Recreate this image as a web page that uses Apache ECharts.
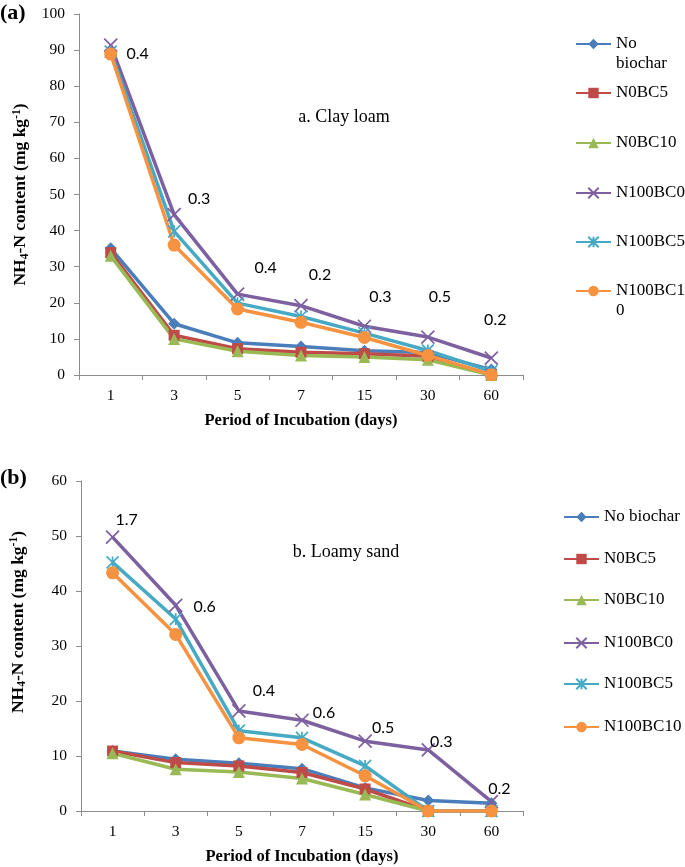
<!DOCTYPE html>
<html>
<head>
<meta charset="utf-8">
<script src="https://cdn.jsdelivr.net/npm/echarts@6/dist/echarts.min.js"></script>
<style>
html,body{margin:0;padding:0;background:#fff;}
#chart{width:685px;height:867px;}
</style>
</head>
<body>
<div id="chart"></div>
<script>
// ---------- DATA ----------
const days = ['1', '3', '5', '7', '15', '30', '60'];
const seriesNames = ['No biochar', 'N0BC5', 'N0BC10', 'N100BC0', 'N100BC5', 'N100BC10'];

// (a) Clay loam
const clayNoBiochar = [35.1, 14.2, 8.9, 7.9, 6.7, 6.2, 1.5];
const clayN0BC5     = [33.9, 11.0, 7.3, 6.3, 5.9, 5.2, 0];
const clayN0BC10    = [33.0, 10.0, 6.6, 5.4, 5.0, 4.2, 0];
const clayN100BC0   = [91.4, 44.4, 22.4, 19.2, 13.5, 10.5, 4.7];
const clayN100BC5   = [89.6, 39.8, 19.9, 16.2, 11.6, 6.8, 1.0];
const clayN100BC10  = [88.9, 36.0, 18.3, 14.6, 10.4, 5.4, 0.1];
const lsdClay = ['0.4', '0.3', '0.4', '0.2', '0.3', '0.5', '0.2'];

// (b) Loamy sand
const sandNoBiochar = [10.9, 9.4, 8.7, 7.7, 4.2, 1.9, 1.4];
const sandN0BC5     = [10.9, 8.8, 8.2, 7.0, 4.0, 0, 0];
const sandN0BC10    = [10.5, 7.6, 7.1, 5.9, 3.0, 0, 0];
const sandN100BC0   = [49.8, 37.4, 18.2, 16.5, 12.7, 11.1, 1.7];
const sandN100BC5   = [45.2, 34.9, 14.6, 13.3, 8.2, 0, 0];
const sandN100BC10  = [43.3, 32.1, 13.3, 12.1, 6.4, 0, 0];
const lsdSand = ['1.7', '0.6', '0.4', '0.6', '0.5', '0.3', '0.2'];

const yTicksClay = {min: 0, max: 100, interval: 10};
const yTicksSand = {min: 0, max: 60, interval: 10};

// ---------- STYLE ----------
const SERIF = '"Liberation Serif", "Times New Roman", serif';
const colors = ['#4A7EBB', '#BE4B48', '#98B954', '#7D60A0', '#46AAC5', '#F69240'];
const symbols = [
  'diamond', 'rect', 'triangle',
  'path://M0,0L10,10M10,0L0,10',
  'path://M5,0L5,10M0,0L10,10M10,0L0,10',
  'circle'
];
const symbolSizes = [12, 11, 12, 13, 12, 13];
const lsdOffsetsClay = [[27, 9], [25, -16], [28, -26], [19, -31], [16, -29], [12, -40], [4, -38]];
const lsdOffsetsSand = [[14, -17], [29, 2], [25, -20], [22, -7], [18, -13], [13, -8], [8, -13]];

const clayData = [clayNoBiochar, clayN0BC5, clayN0BC10, clayN100BC0, clayN100BC5, clayN100BC10];
const sandData = [sandNoBiochar, sandN0BC5, sandN0BC10, sandN100BC0, sandN100BC5, sandN100BC10];

function buildSeries(dataSets, gridIdx, lsd, offsets) {
  return dataSets.map((vals, i) => {
    const isPathSym = i === 3 || i === 4;
    const data = vals.map((v, j) => {
      if (i === 3) {
        return {
          value: v,
          label: {
            show: true, position: 'inside', formatter: lsd[j], offset: offsets[j],
            fontFamily: 'Lato, "Open Sans", sans-serif', fontSize: 16, color: '#000'
          }
        };
      }
      return v;
    });
    return {
      type: 'line',
      name: seriesNames[i],
      xAxisIndex: gridIdx, yAxisIndex: gridIdx,
      data: data,
      symbol: symbols[i],
      symbolSize: symbolSizes[i],
      showAllSymbol: true,
      lineStyle: {color: colors[i], width: 3.5},
      itemStyle: isPathSym
        ? {color: colors[i], borderColor: colors[i], borderWidth: 1.7}
        : {color: colors[i], borderWidth: 0},
      emphasis: {disabled: true},
      animation: false
    };
  });
}

function xAxisCfg(gridIdx) {
  return {
    type: 'category', gridIndex: gridIdx, data: days, boundaryGap: true,
    axisLine: {lineStyle: {color: '#8c8c8c', width: 1}},
    axisTick: {show: true, length: 5, lineStyle: {color: '#8c8c8c'}},
    axisLabel: {fontFamily: SERIF, fontSize: 15.5, color: '#000', margin: 13},
    splitLine: {show: false},
    name: 'Period of Incubation (days)',
    nameLocation: 'middle', nameGap: 37,
    nameTextStyle: {fontFamily: SERIF, fontSize: 16.5, fontWeight: 'bold', color: '#000'}
  };
}

const yNameRich = {
  b: {fontFamily: SERIF, fontSize: 17.5, fontWeight: 'bold', color: '#000', lineHeight: 20, verticalAlign: 'middle'},
  sub: {fontFamily: SERIF, fontSize: 11.5, fontWeight: 'bold', color: '#000', lineHeight: 11, verticalAlign: 'bottom'},
  sup: {fontFamily: SERIF, fontSize: 11.5, fontWeight: 'bold', color: '#000', lineHeight: 11, verticalAlign: 'top'}
};
const yNameText = '{b|NH}{sub|4}{b|-N content (mg kg}{sup|-1}{b|)}';

function yAxisCfg(gridIdx, ticks, gap, pad) {
  return {
    type: 'value', gridIndex: gridIdx,
    min: ticks.min, max: ticks.max, interval: ticks.interval,
    axisLine: {show: true, lineStyle: {color: '#8c8c8c', width: 1}},
    axisTick: {show: true, length: 5, lineStyle: {color: '#8c8c8c'}},
    axisLabel: {fontFamily: SERIF, fontSize: 15.5, color: '#000', margin: 14},
    splitLine: {show: false},
    name: yNameText,
    nameLocation: 'middle', nameGap: gap,
    nameTextStyle: {fontFamily: SERIF, fontSize: 17.5, fontWeight: 'bold', color: '#000', rich: yNameRich, padding: pad}
  };
}

// Legends: one component per item for exact placement
const LH = 20;
function buildLegends(centersY, left, wrapMap) {
  return seriesNames.map((nm, i) => {
    const txt = wrapMap[nm] || nm;
    const nLines = txt.split('\n').length;
    return {
      data: [nm],
      orient: 'vertical',
      left: left,
      top: centersY[i] - nLines * LH / 2,
      padding: 0,
      itemWidth: 35, itemHeight: 13,
      selectedMode: false,
      formatter: () => txt,
      textStyle: {fontFamily: SERIF, fontSize: 17, color: '#000', lineHeight: LH}
    };
  });
}

const legendsA = buildLegends([44, 93, 143, 193, 242, 291], 575,
  {'No biochar': '\nNo\nbiochar', 'N100BC10': '\nN100BC1\n0'});
const legendsB = buildLegends([517, 559, 600, 643, 684, 727], 563, {});

const option = {
  backgroundColor: '#fff',
  animation: false,
  grid: [
    {left: 79, top: 14, right: 162, bottom: 492, containLabel: false},
    {left: 72, top: 481, right: 162, bottom: 56, containLabel: false}
  ],
  xAxis: [xAxisCfg(0), xAxisCfg(1)],
  yAxis: [yAxisCfg(0, yTicksClay, 37, [0, 0, 0, 0]), yAxisCfg(1, yTicksSand, 53, [0, 0, 0, 48])],
  legend: legendsA.concat(legendsB),
  graphic: [
    {type: 'text', x: 0, y: 2, style: {text: '(a)', font: 'bold 22px ' + SERIF, fill: '#000'}},
    {type: 'text', x: 0, y: 467, style: {text: '(b)', font: 'bold 22px ' + SERIF, fill: '#000'}},
    {type: 'text', x: 344, y: 117, style: {text: 'a. Clay loam', font: '18px ' + SERIF, fill: '#000', align: 'center', verticalAlign: 'middle'}},
    {type: 'text', x: 346, y: 552, style: {text: 'b. Loamy sand', font: '18px ' + SERIF, fill: '#000', align: 'center', verticalAlign: 'middle'}}
  ],
  series: buildSeries(clayData, 0, lsdClay, lsdOffsetsClay)
    .concat(buildSeries(sandData, 1, lsdSand, lsdOffsetsSand))
};

const chart = echarts.init(document.getElementById('chart'), null, {renderer: 'canvas'});
chart.setOption(option);
</script>
</body>
</html>
